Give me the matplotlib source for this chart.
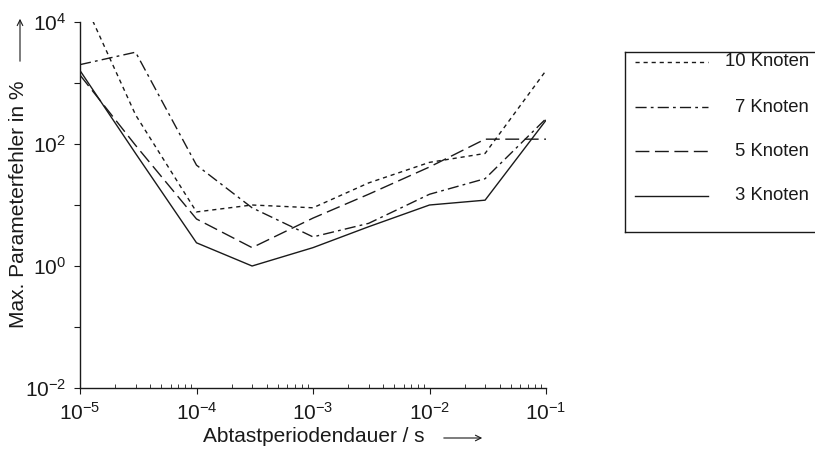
import matplotlib
matplotlib.use("Agg")
import matplotlib.pyplot as plt
from matplotlib.patches import FancyArrowPatch
from matplotlib.ticker import FixedLocator, LogFormatterSciNotation, NullFormatter

plt.rcParams["font.family"] = ["Liberation Sans", "DejaVu Sans"]
plt.rcParams["mathtext.fontset"] = "custom"
plt.rcParams["mathtext.rm"] = "Liberation Sans"
plt.rcParams["mathtext.it"] = "Liberation Sans"
plt.rcParams["mathtext.default"] = "regular"

# Abtastperiodendauer in s
periods = [1e-5, 3e-5, 1e-4, 3e-4, 1e-3, 3e-3, 1e-2, 3e-2, 1e-1]

# Max. Parameterfehler in %
err_10 = [30000, 300, 7.7, 10, 9, 23, 50, 70, 1600]
err_7 = [2000, 3200, 45, 9, 3.0, 5.0, 15, 27, 260]
err_5 = [1350, 95, 5.9, 2.0, 6.1, 15, 42, 120, 120]
err_3 = [1600, 70, 2.4, 1.0, 2.0, 4.4, 10, 12, 245]

labels = ["10 Knoten", "7 Knoten", "5 Knoten", "3 Knoten"]

line_col = "#1a1a1a"
styles = [
    dict(dashes=(3, 2.8)),
    dict(dashes=(8, 3, 2, 3)),
    dict(dashes=(10, 4)),
    dict(linestyle="-"),
]

fig = plt.figure(figsize=(8.15, 4.54), dpi=100)
W, H = 815, 454
ax = fig.add_axes([80 / W, 1 - 388 / H, (546 - 80) / W, (388 - 22) / H])

for vals, st in zip([err_10, err_7, err_5, err_3], styles):
    ax.plot(periods, vals, color=line_col, lw=1.0, **st)

ax.set_xscale("log")
ax.set_yscale("log")
ax.set_xlim(1e-5, 1e-1)
ax.set_ylim(1e-2, 1e4)

ax.spines["top"].set_visible(False)
ax.spines["right"].set_visible(False)
for s in ["left", "bottom"]:
    ax.spines[s].set_linewidth(1.0)
    ax.spines[s].set_color(line_col)

# y: labelled every second decade, plain ticks in between
ax.yaxis.set_major_locator(FixedLocator([1e-2, 1e0, 1e2, 1e4]))
ax.yaxis.set_minor_locator(FixedLocator([1e-1, 1e1, 1e3]))
ax.yaxis.set_major_formatter(LogFormatterSciNotation())
ax.yaxis.set_minor_formatter(NullFormatter())
ax.tick_params(axis="y", which="both", direction="out", length=4, width=0.8,
               labelsize=15, pad=6, colors=line_col)

ax.xaxis.set_major_locator(FixedLocator([1e-5, 1e-4, 1e-3, 1e-2, 1e-1]))
ax.xaxis.set_major_formatter(LogFormatterSciNotation())
ax.tick_params(axis="x", which="major", direction="out", length=4, width=0.8,
               labelsize=15, pad=6, colors=line_col)
ax.tick_params(axis="x", which="minor", direction="in", length=3, width=0.6,
               colors=line_col)

# axis labels with arrows
fig.text(19 / W, 1 - 204 / H, "Max. Parameterfehler in %", rotation=90,
         ha="center", va="center", fontsize=15, color=line_col)
fig.text(314 / W, 1 - 437 / H, "Abtastperiodendauer / s",
         ha="center", va="center", fontsize=15, color=line_col)
arrow = dict(arrowstyle="->", color=line_col, lw=0.8, mutation_scale=10)
fig.add_artist(FancyArrowPatch((20 / W, 1 - 64 / H), (20 / W, 1 - 16 / H),
                               transform=fig.transFigure, **arrow))
fig.add_artist(FancyArrowPatch((441 / W, 1 - 438 / H), (485 / W, 1 - 438 / H),
                               transform=fig.transFigure, **arrow))

# legend box on the right, texts right-aligned
lax = fig.add_axes([625 / W, 1 - 232 / H, 195 / W, (232 - 52) / H])
lax.set_xlim(0, 195)
lax.set_ylim(180, 0)
lax.set_xticks([])
lax.set_yticks([])
for s in lax.spines.values():
    s.set_linewidth(1.0)
    s.set_color(line_col)
row_y = [10, 55, 99, 144]
for yy, lab, st in zip(row_y, labels, styles):
    lax.plot([10, 83], [yy, yy], color=line_col, lw=1.0, **st)
    lax.text(184, yy, lab, ha="right", va="center", fontsize=13.3,
             color=line_col)

fig.savefig("out.png", dpi=100)
